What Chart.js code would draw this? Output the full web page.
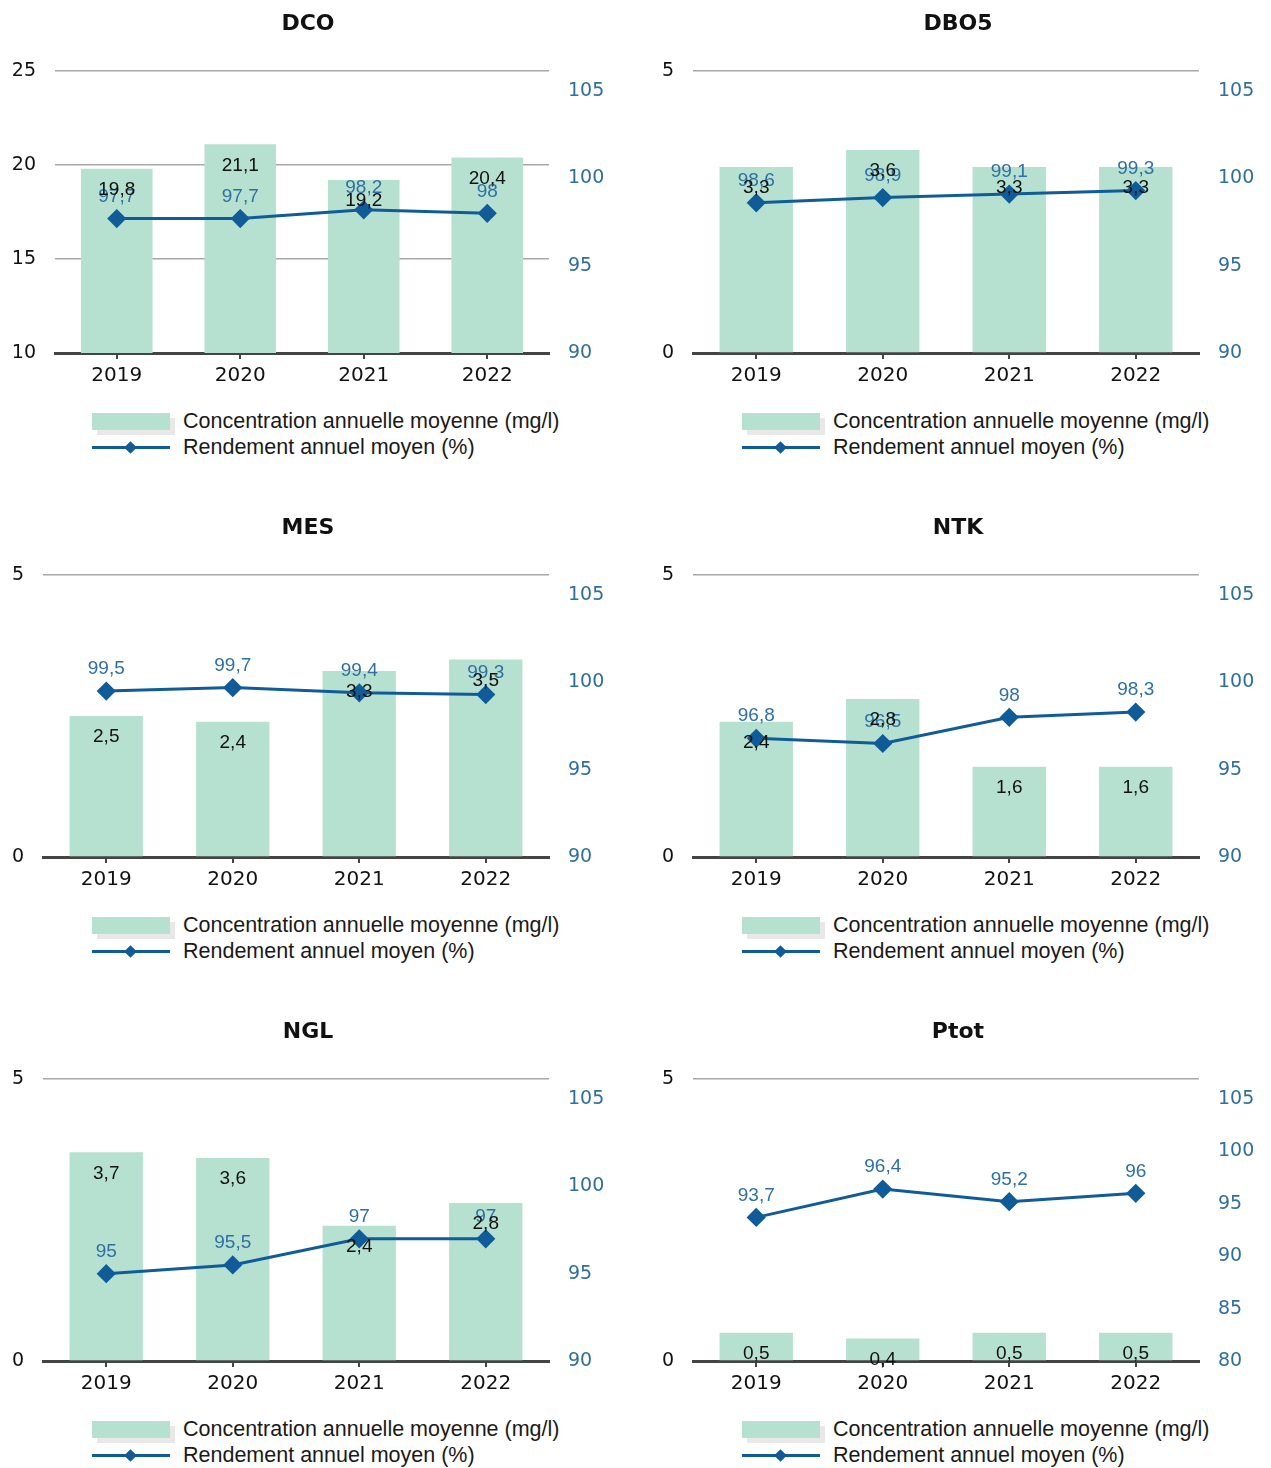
<!DOCTYPE html>
<html>
<head>
<meta charset="utf-8">
<script src="https://cdn.jsdelivr.net/npm/chart.js@4.4.0/dist/chart.umd.min.js"></script>
<style>
  body { margin: 0; background: #fff; width: 1271px; height: 1468px; position: relative; overflow: hidden; }
  .panel { position: absolute; width: 635px; height: 504px; }
  .panel canvas { position: absolute; left: 0; top: 0; }
  .legend { position: absolute; left: 92px; top: 408px; font: 21.5px "Liberation Sans", Arial, sans-serif; color: #1a1a1a; }
  .row { height: 26px; display: flex; align-items: center; white-space: nowrap; }
  .sw { width: 78px; height: 17px; margin-right: 13px; position: relative; flex: none; }
  .sw.bar { background: #b6e1d0; box-shadow: 5px 5px 0 #e8e8e8; }
  .sw.line::before { content: ''; position: absolute; left: 0; right: 0; top: 7px; height: 3px; background: #0f5c99; }
  .sw.line::after { content: ''; position: absolute; left: 34px; top: 4px; width: 9px; height: 9px; background: #0f5c99; transform: rotate(45deg); }
</style>
</head>
<body>
<div id="charts"></div>
<script>
const years = ['2019', '2020', '2021', '2022'];

const dcoConc = [19.8, 21.1, 19.2, 20.4];
const dcoRend = [97.7, 97.7, 98.2, 98];
const dbo5Conc = [3.3, 3.6, 3.3, 3.3];
const dbo5Rend = [98.6, 98.9, 99.1, 99.3];
const mesConc = [2.5, 2.4, 3.3, 3.5];
const mesRend = [99.5, 99.7, 99.4, 99.3];
const ntkConc = [2.4, 2.8, 1.6, 1.6];
const ntkRend = [96.8, 96.5, 98, 98.3];
const nglConc = [3.7, 3.6, 2.4, 2.8];
const nglRend = [95, 95.5, 97, 97];
const ptotConc = [0.5, 0.4, 0.5, 0.5];
const ptotRend = [93.7, 96.4, 95.2, 96];

const concLabel = 'Concentration annuelle moyenne (mg/l)';
const rendLabel = 'Rendement annuel moyen (%)';

// axis ranges [min, max] for the left (concentration) and right (rendement) axes
const dcoAxes = [[10, 25], [90, 106.15]];
const stdAxes = [[0, 5], [90, 106.15]];
const ptotAxes = [[0, 5], [80, 106.9]];

const panels = [
  ['DCO', dcoConc, dcoRend, dcoAxes],
  ['DBO5', dbo5Conc, dbo5Rend, stdAxes],
  ['MES', mesConc, mesRend, stdAxes],
  ['NTK', ntkConc, ntkRend, stdAxes],
  ['NGL', nglConc, nglRend, stdAxes],
  ['Ptot', ptotConc, ptotRend, ptotAxes]
];

Chart.defaults.font.family = '"DejaVu Sans", Verdana, sans-serif';

// value labels: inside the top of the bars, above the line points
const valueLabels = {
  id: 'valueLabels',
  afterDatasetsDraw(chart) {
    const ctx = chart.ctx;
    ctx.save();
    ctx.textAlign = 'center';
    ctx.textBaseline = 'middle';
    ctx.font = '19px "Liberation Sans", Arial, sans-serif';
    chart.data.datasets.forEach((ds, i) => {
      chart.getDatasetMeta(i).data.forEach((el, j) => {
        const txt = String(ds.data[j]).replace('.', ',');
        if (ds.type === 'bar') {
          ctx.fillStyle = '#111';
          ctx.fillText(txt, el.x, el.y + 21);
        } else {
          ctx.fillStyle = '#2f70a3';
          ctx.fillText(txt, el.x, el.y - 22);
        }
      });
    });
    ctx.restore();
  }
};

function makePanel(idx, title, conc, rend, axes) {
  const div = document.createElement('div');
  div.className = 'panel';
  div.style.left = (idx % 2 === 0 ? 0 : 650) + 'px';
  div.style.top = Math.floor(idx / 2) * 504 + 'px';
  div.innerHTML = '<canvas width="635" height="405"></canvas>' +
    '<div class="legend"><div class="row"><span class="sw bar"></span>' + concLabel + '</div>' +
    '<div class="row"><span class="sw line"></span>' + rendLabel + '</div></div>';
  document.getElementById('charts').appendChild(div);

  const leftWidth = axes[0][1] >= 10 ? 43 : 31;

  new Chart(div.querySelector('canvas'), {
    type: 'bar',
    data: {
      labels: years,
      datasets: [
        {
          type: 'line', label: rendLabel, data: rend, yAxisID: 'yR',
          borderColor: '#0f5c99', backgroundColor: '#0f5c99', borderWidth: 3,
          pointStyle: 'rectRot', pointRadius: 7.5, pointHoverRadius: 7.5, order: 0
        },
        {
          type: 'bar', label: concLabel, data: conc, yAxisID: 'yL',
          backgroundColor: '#b6e1d0', categoryPercentage: 1, barPercentage: 0.58, order: 1
        }
      ]
    },
    options: {
      responsive: false,
      animation: false,
      layout: { padding: { left: 12, right: 31, top: 0, bottom: 12 } },
      plugins: {
        legend: { display: false },
        tooltip: { enabled: false },
        title: {
          display: true, text: title, color: '#111',
          font: { size: 22, weight: 'bold' },
          padding: { top: 11, bottom: 33.6 }
        }
      },
      scales: {
        x: {
          grid: { offset: false, drawOnChartArea: false, drawTicks: true, tickLength: 6, color: '#444', lineWidth: 2 },
          border: { color: '#444', width: 3 },
          ticks: { color: '#111', padding: 5, font: { size: 20 } }
        },
        yL: {
          position: 'left', min: axes[0][0], max: axes[0][1],
          afterFit: s => { s.width = leftWidth; },
          ticks: { stepSize: 5, padding: 19, color: '#111', font: { size: 19 } },
          grid: { drawTicks: false, color: '#a8a8a8', lineWidth: 1.5 },
          border: { display: false }
        },
        yR: {
          position: 'right', min: axes[1][0], max: axes[1][1],
          afterFit: s => { s.width = 55; },
          afterBuildTicks: s => { s.ticks = s.ticks.filter(t => t.value % 5 === 0); },
          ticks: { stepSize: 5, includeBounds: false, padding: 19, color: '#306f9c', font: { size: 19 } },
          grid: { drawOnChartArea: false, drawTicks: false },
          border: { display: false }
        }
      }
    },
    plugins: [valueLabels]
  });
}

panels.forEach((p, i) => makePanel(i, p[0], p[1], p[2], p[3]));
</script>
</body>
</html>
